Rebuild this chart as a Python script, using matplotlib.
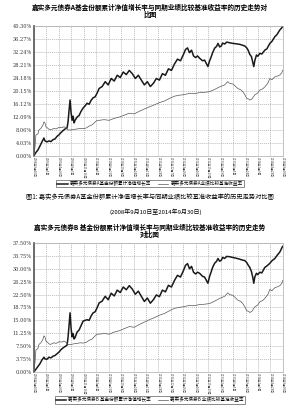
import matplotlib
matplotlib.use("Agg")
import matplotlib.pyplot as plt
import numpy as np

plt.rcParams['font.family'] = ['Noto Sans CJK SC', 'DejaVu Sans']

# ---------------- data ----------------
date_labels = ["2008年9月10日", "2009年1月5日", "2009年4月20日", "2009年8月3日", "2009年11月16日",
               "2010年3月5日", "2010年6月21日", "2010年10月8日", "2011年1月24日", "2011年5月11日",
               "2011年8月24日", "2011年12月7日", "2012年3月26日", "2012年7月10日", "2012年10月29日",
               "2013年2月19日", "2013年6月5日", "2013年9月24日", "2014年1月9日", "2014年4月28日",
               "2014年9月30日"]
n_days = 1488

fund_days = [0, 12, 24, 36, 48, 60, 66, 78, 90, 102, 114, 126, 138, 150, 162, 174, 186, 198, 204, 210,
             216, 222, 228, 234, 240, 246, 258, 270, 282, 294, 306, 318, 330, 342, 354, 366, 378, 390,
             408, 426, 444, 462, 480, 498, 516, 534, 552, 570, 588, 606, 624, 642, 660, 678, 696, 714,
             732, 750, 768, 786, 804, 822, 840, 858, 876, 894, 906, 918, 930, 942, 954, 966, 978,
             990, 1008, 1020, 1032, 1040, 1050, 1060, 1068, 1080, 1092, 1100, 1110, 1120, 1128, 1140,
             1152, 1170, 1188, 1206, 1230, 1248, 1260, 1272, 1280, 1290, 1300, 1308, 1314, 1320, 1330,
             1338, 1350, 1362, 1380, 1392, 1410, 1422, 1440, 1452, 1470, 1479, 1486]

fund_a = [0.0, 1.0, 1.8, 3.0, 4.3, 5.5, 4.6, 4.3, 4.6, 4.4, 5.0, 5.2, 6.0, 6.5, 7.2, 7.8, 8.3, 8.6, 10.5, 14.0,
          17.3, 13.5, 11.0, 12.3, 10.2, 11.0, 12.0, 12.5, 13.8, 14.8, 15.5, 16.3, 16.0, 17.2, 18.0, 18.3, 19.5, 20.9,
          21.5, 23.0, 22.0, 24.0, 23.2, 25.0, 24.3, 26.0, 25.2, 26.5, 25.5, 24.0, 25.0, 23.5, 22.0, 23.0, 21.5, 22.5,
          24.0, 23.5, 25.5, 25.0, 27.0, 26.5, 28.5, 30.0, 29.5, 31.5, 33.0, 33.5, 32.0, 32.8, 31.0, 30.5, 31.0,
          30.3, 29.5, 29.7, 28.5, 27.7, 29.5, 30.8, 32.0, 33.4, 34.0, 34.9, 33.8, 34.1, 35.0, 34.7,
          35.3, 35.1, 34.9, 34.8, 34.6, 34.3, 34.1, 33.5, 32.8, 31.5, 30.8, 29.0, 27.7, 29.5, 31.3,
          30.9, 31.8, 31.6, 32.8, 33.2, 34.9, 35.5, 37.0, 37.6, 39.1, 39.6, 40.1]

fund_b = [0.0, 0.8, 1.6, 2.4, 3.5, 4.3, 3.8, 3.7, 4.3, 4.1, 4.6, 4.8, 5.3, 5.8, 6.5, 7.0, 7.4, 7.8, 10.0, 13.5,
          17.2, 12.8, 10.2, 11.2, 9.6, 10.0, 11.6, 12.2, 13.5, 14.8, 15.0, 15.2, 15.0, 16.3, 17.2, 17.5, 18.7, 20.1,
          20.6, 22.0, 21.0, 22.9, 22.1, 23.8, 23.1, 24.7, 23.9, 25.1, 24.1, 22.6, 23.5, 22.0, 20.5, 21.5, 20.0, 21.0,
          22.4, 21.9, 23.8, 23.3, 25.2, 24.7, 26.6, 28.1, 27.6, 29.5, 31.0, 31.5, 30.0, 30.7, 29.0, 28.5, 29.0,
          28.7, 27.8, 27.6, 26.5, 25.8, 27.8, 29.2, 30.4, 31.6, 32.2, 33.0, 32.2, 32.5, 33.3, 33.0,
          33.6, 33.5, 33.3, 33.1, 32.8, 32.5, 32.4, 31.8, 31.1, 30.4, 29.2, 27.5, 25.8, 27.6, 28.7,
          28.3, 29.0, 28.8, 30.4, 30.8, 31.6, 32.3, 33.0, 33.8, 34.9, 35.8, 36.5]

bench_days = [0, 6, 12, 24, 30, 42, 54, 60, 66, 72, 84, 96, 108, 120, 132, 150, 168, 180, 192, 204, 222,
              240, 258, 276, 294, 312, 330, 348, 366, 378, 390, 420, 450, 480, 510, 540, 570, 600, 630,
              660, 690, 720, 750, 780, 810, 840, 870, 900, 930, 960, 990, 1020, 1050, 1080, 1110, 1140,
              1158, 1170, 1188, 1200, 1218, 1236, 1248, 1260, 1272, 1284, 1290, 1302, 1320, 1338, 1350,
              1368, 1380, 1398, 1410, 1422, 1440, 1458, 1470, 1482, 1486]

bench = [1.0, 2.5, 6.4, 6.8, 8.0, 8.5, 9.5, 10.5, 10.2, 9.0, 8.5, 8.0, 8.2, 8.5, 8.3, 8.8, 8.7, 9.0, 8.6, 8.0, 8.0,
         8.2, 8.3, 8.5, 8.4, 8.6, 9.2, 9.6, 10.5, 11.0, 11.0, 11.2, 11.0, 11.6, 12.0, 12.6, 13.2, 13.0, 13.8,
         14.5, 15.2, 15.8, 16.5, 17.0, 17.8, 18.5, 18.8, 19.0, 19.4, 19.3, 19.6, 19.7, 19.9, 20.6, 21.4, 22.0,
         23.0, 22.5, 22.3, 21.8, 20.9, 20.5, 19.9, 19.0, 17.8, 17.6, 17.3, 17.6, 18.9, 19.5, 20.4,
         20.8, 21.4, 22.5, 24.0, 23.6, 24.5, 24.8, 25.1, 25.8, 26.6]

yticks_a = [0.0, 4.03, 8.06, 12.09, 16.12, 20.15, 24.18, 28.21, 32.24, 36.27, 40.30]
yticks_b = [0.0, 3.75, 7.50, 11.25, 15.00, 18.75, 22.50, 26.25, 30.00, 33.75, 37.50]

title_a = "嘉实多元债券A基金份额累计净值增长率与同期业绩比较基准收益率的历史走势对\n比图"
title_b = "嘉实多元债券B 基金份额累计净值增长率与同期业绩比较基准收益率的历史走势\n对比图"
caption = "图1: 嘉实多元债券A基金份额累计净值增长率与同期业绩比较基准收益率的历史走势对比图"
period = "(2008年9月10日至2014年9月30日)"
legend_a = ["嘉实多元债券A基金份额累计净值增长率", "嘉实多元债券A业绩比较基准收益率"]
legend_b = ["嘉实多元债券B 基金份额累计净值增长率", "嘉实多元债券B 业绩比较基准收益率"]

# ---------------- drawing ----------------
fig = plt.figure(figsize=(3.0, 4.07), dpi=100)
fig.patch.set_facecolor('white')

def panel(rect, fund, yticks, labels, legend_y):
    ax = fig.add_axes(rect)
    l1, = ax.plot(fund_days, fund, color='#1a1a1a', lw=1.1)
    l2, = ax.plot(bench_days, bench, color='#555555', lw=0.5)
    ax.set_xlim(0, n_days)
    ax.set_ylim(0, yticks[-1])
    ax.set_yticks(yticks)
    ax.set_yticklabels([f"{v:.2f}%" for v in yticks], fontsize=3.6, color='#333333',
                       family=['DejaVu Serif'])
    xt = np.linspace(0, n_days, len(date_labels))
    ax.set_xticks(xt)
    ax.set_xticklabels(date_labels, rotation=270, fontsize=2.1, color='#333333')
    ax.tick_params(axis='y', length=0, pad=1.5)
    ax.tick_params(axis='x', length=0, pad=1.0)
    ax.grid(True, color='#9a9a9a', lw=0.4, ls=(0, (2, 1.5)))
    for s in ['top', 'right', 'bottom']:
        ax.spines[s].set_color('#aaaaaa')
        ax.spines[s].set_linewidth(0.5)
    ax.spines['left'].set_color('#555555')
    ax.spines['left'].set_linewidth(1.2)
    leg = fig.legend([l1, l2], labels, loc='center', bbox_to_anchor=(0.5, legend_y),
                     ncol=2, fontsize=3.3, frameon=True, fancybox=False,
                     edgecolor='#333333', handlelength=2.2, handletextpad=0.5,
                     columnspacing=1.5, borderpad=0.3)
    leg.get_frame().set_linewidth(0.5)
    return ax

panel([0.113, 0.6174, 0.830, 0.3187], fund_a, yticks_a, legend_a, 0.549)
panel([0.113, 0.0860, 0.830, 0.3170], fund_b, yticks_b, legend_b, 0.018)

fig.text(0.5, 0.973, title_a, ha='center', va='center', fontsize=4.8, fontweight='bold',
         linespacing=1.0)
fig.text(0.5, 0.516, caption, ha='center', va='center', fontsize=4.5)
fig.text(0.52, 0.479, period, ha='center', va='center', fontsize=4.3)
fig.text(0.5, 0.432, title_b, ha='center', va='center', fontsize=4.8, fontweight='bold',
         linespacing=1.0)

fig.savefig("out.png", dpi=100, facecolor='white')
